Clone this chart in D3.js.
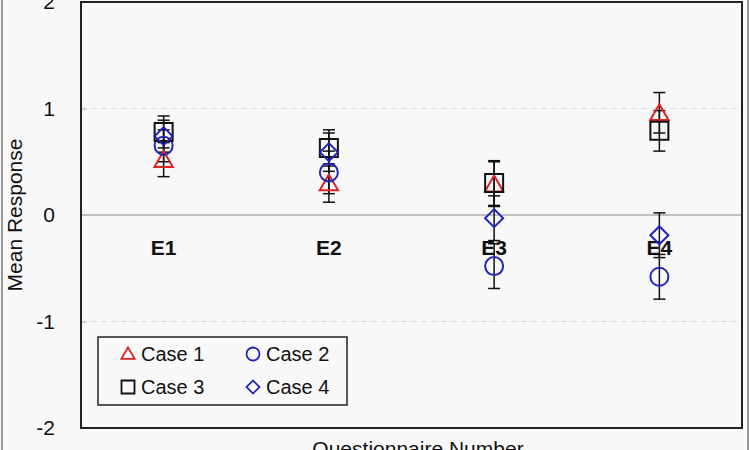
<!DOCTYPE html>
<html>
<head>
<meta charset="utf-8">
<script src="https://cdn.jsdelivr.net/npm/d3@7"></script>
<style>
  body { margin: 0; background: #f8f8f8; }
  svg { display: block; font-family: "Liberation Sans", Arial, sans-serif; }
</style>
</head>
<body>
<div id="chart"></div>
<script>
// data
var categories = ["E1", "E2", "E3", "E4"];
var caseNames = ["Case 1", "Case 2", "Case 3", "Case 4"];
var case1 = [0.52, 0.30, 0.29, 0.96];
var case2 = [0.65, 0.40, -0.48, -0.58];
var case3 = [0.78, 0.63, 0.30, 0.79];
var case4 = [0.74, 0.59, -0.03, -0.19];
var err1 = [0.16, 0.18, 0.21, 0.19];
var err2 = [0.15, 0.20, 0.21, 0.21];
var err3 = [0.15, 0.17, 0.21, 0.19];
var err4 = [0.15, 0.18, 0.21, 0.21];
var yTicks = [-2, -1, 0, 1, 2];

var svgWidth = 750;
var svgHeight = 450;
var margin = { top: 2, right: 8, bottom: 22, left: 81 };
var width = svgWidth - margin.left - margin.right;
var height = svgHeight - margin.top - margin.bottom;

var svg = d3.select("#chart")
    .append("svg")
    .attr("width", svgWidth)
    .attr("height", svgHeight);

// outer frame lines
svg.append("line").attr("x1", 2).attr("x2", 2).attr("y1", 0).attr("y2", svgHeight)
    .attr("stroke", "#999").attr("stroke-width", 2);
svg.append("line").attr("x1", 748).attr("x2", 748).attr("y1", 0).attr("y2", svgHeight)
    .attr("stroke", "#999").attr("stroke-width", 2);

var chartGroup = svg.append("g")
    .attr("transform", `translate(${margin.left}, ${margin.top})`);

var x = d3.scaleBand().domain(categories).range([0, width]);
var y = d3.scaleLinear().domain([-2, 2]).range([height, 0]);

// gridlines
chartGroup.selectAll(".grid")
    .data(yTicks.filter(d => d == 1 || d == -1))
    .enter()
    .append("line")
    .attr("x1", 0).attr("x2", width)
    .attr("y1", d => y(d)).attr("y2", d => y(d))
    .attr("stroke", "#dcdcdc")
    .attr("stroke-dasharray", "6,4");

// zero line
chartGroup.append("line")
    .attr("x1", 0).attr("x2", width)
    .attr("y1", y(0)).attr("y2", y(0))
    .attr("stroke", "#888").attr("stroke-width", 1.2);

// y axis
var leftAxis = d3.axisLeft(y).tickValues(yTicks).tickSize(-6).tickPadding(26)
    .tickFormat(d => String(d));
var yAxis = chartGroup.append("g").call(leftAxis);
yAxis.select(".domain").remove();
yAxis.selectAll(".tick line").attr("stroke", "#bbb");
yAxis.selectAll("text").attr("font-size", "21px").attr("fill", "#111")
    .attr("font-family", "Liberation Sans, Arial, sans-serif");

// category labels under the zero line
chartGroup.selectAll(".catLabel")
    .data(categories)
    .enter()
    .append("text")
    .attr("x", d => x(d) + x.bandwidth() / 2)
    .attr("y", y(0) + 40)
    .attr("text-anchor", "middle")
    .attr("font-size", "21px")
    .attr("font-weight", "bold")
    .attr("fill", "#111")
    .text(d => d);

// series table
var series = [
    { name: caseNames[0], values: case1, errs: err1, color: "#dd2222", shape: "triangle" },
    { name: caseNames[1], values: case2, errs: err2, color: "#2424b8", shape: "circle" },
    { name: caseNames[2], values: case3, errs: err3, color: "#111111", shape: "square" },
    { name: caseNames[3], values: case4, errs: err4, color: "#2424b8", shape: "diamond" }
];

function symbolPath(shape, s) {
    if (shape == "triangle") return d3.symbol(d3.symbolTriangle, s * s * 0.45)();
    if (shape == "circle") return d3.symbol(d3.symbolCircle, Math.PI * s * s / 4)();
    return d3.symbol(d3.symbolSquare, shape == "diamond" ? s * s * 0.5 : s * s)();
}

// error bars
series.forEach(function (s) {
    var pts = categories.map((c, i) => ({ c: c, v: s.values[i], e: s.errs[i] }));
    var g = chartGroup.append("g");
    g.selectAll("line.bar").data(pts).enter().append("line")
        .attr("x1", d => x(d.c) + x.bandwidth() / 2)
        .attr("x2", d => x(d.c) + x.bandwidth() / 2)
        .attr("y1", d => y(d.v + d.e))
        .attr("y2", d => y(d.v - d.e))
        .attr("stroke", "#111").attr("stroke-width", 1.5);
    [1, -1].forEach(function (sign) {
        g.selectAll("line.cap" + sign).data(pts).enter().append("line")
            .attr("x1", d => x(d.c) + x.bandwidth() / 2 - 6)
            .attr("x2", d => x(d.c) + x.bandwidth() / 2 + 6)
            .attr("y1", d => y(d.v + sign * d.e))
            .attr("y2", d => y(d.v + sign * d.e))
            .attr("stroke", "#111").attr("stroke-width", 1.5);
    });
});

// markers
series.forEach(function (s) {
    chartGroup.selectAll(null)
        .data(categories.map((c, i) => ({ c: c, v: s.values[i] })))
        .enter()
        .append("path")
        .attr("d", symbolPath(s.shape, 18))
        .attr("transform", d => `translate(${x(d.c) + x.bandwidth() / 2}, ${y(d.v) + (s.shape == "triangle" ? 2 : 0)})` + (s.shape == "diamond" ? " rotate(45)" : ""))
        .attr("fill", "none")
        .attr("stroke", s.color)
        .attr("stroke-width", 2);
});

// plot frame
chartGroup.append("rect")
    .attr("width", width).attr("height", height)
    .attr("fill", "none").attr("stroke", "#222").attr("stroke-width", 2);

// legend
var legend = svg.append("g").attr("transform", "translate(98, 337)");
legend.append("rect").attr("width", 249).attr("height", 68)
    .attr("fill", "#f8f8f8").attr("stroke", "#222").attr("stroke-width", 1.5);
series.forEach(function (s, i) {
    var lx = (i % 2) * 125 + 30;
    var ly = Math.floor(i / 2) * 33 + 17;
    legend.append("path")
        .attr("d", symbolPath(s.shape, 13))
        .attr("transform", `translate(${lx}, ${ly + (s.shape == "triangle" ? 1 : 0)})` + (s.shape == "diamond" ? " rotate(45)" : ""))
        .attr("fill", "none").attr("stroke", s.color).attr("stroke-width", 1.8);
    legend.append("text")
        .attr("x", lx + 13).attr("y", ly + 7)
        .attr("font-size", "20px").attr("fill", "#111")
        .text(s.name);
});

// axis titles
svg.append("text")
    .attr("transform", `translate(22, ${margin.top + height / 2}) rotate(-90)`)
    .attr("text-anchor", "middle")
    .attr("font-size", "21px").attr("fill", "#111")
    .text("Mean Response");

svg.append("text")
    .attr("x", 418).attr("y", 456)
    .attr("text-anchor", "middle")
    .attr("font-size", "21px").attr("fill", "#111")
    .text("Questionnaire Number");
</script>
</body>
</html>
